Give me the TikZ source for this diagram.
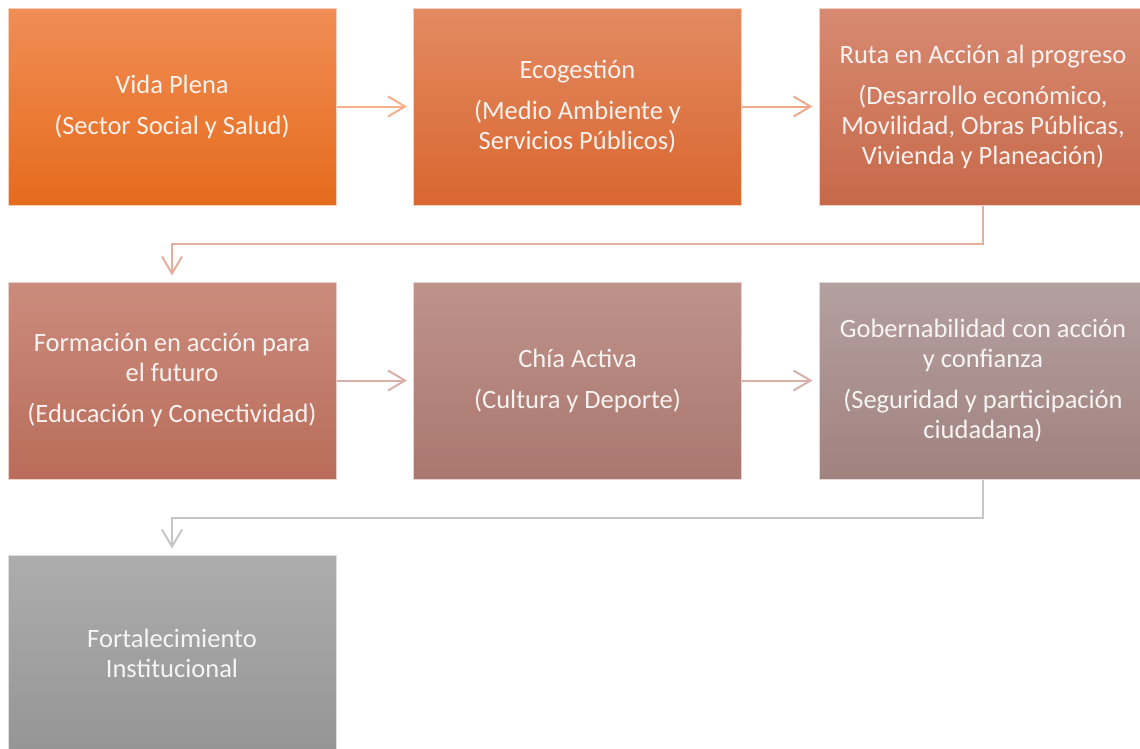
\documentclass[tikz,border=0pt]{standalone}
\usepackage{fontspec}
\setmainfont{Carlito}
\usetikzlibrary{arrows.meta}
\definecolor{aT}{HTML}{F18D56}\definecolor{aB}{HTML}{E56B1C}
\definecolor{bT}{HTML}{E38A62}\definecolor{bB}{HTML}{D96730}
\definecolor{cT}{HTML}{D78A71}\definecolor{cB}{HTML}{C7694A}
\definecolor{dT}{HTML}{CB8C7D}\definecolor{dB}{HTML}{B96C59}
\definecolor{eT}{HTML}{BE938B}\definecolor{eB}{HTML}{AA776E}
\definecolor{fT}{HTML}{B4A0A0}\definecolor{fB}{HTML}{A1827E}
\definecolor{gT}{HTML}{ADADAD}\definecolor{gB}{HTML}{959595}
\definecolor{arA}{HTML}{F4B08A}
\definecolor{arB}{HTML}{EDA98E}
\definecolor{arC}{HTML}{E6AE9C}
\definecolor{arD}{HTML}{D8B0A9}
\definecolor{arE}{HTML}{C6C6C6}
\tikzset{
  box/.style={rectangle, minimum width=328pt, minimum height=197pt, inner sep=0pt,
    align=center, text=white, text opacity=0.9, draw=white!60!#1, line width=1pt,
    font=\fontsize{26.5pt}{30pt}\selectfont},
  flow/.style={line width=2pt, -{Straight Barb[length=17pt,width=20pt,line width=2pt]}, shorten >=6pt}
}
\newcommand{\gp}{\\[11pt]}
\begin{document}
\begin{tikzpicture}[x=1pt,y=-1pt]
\useasboundingbox (0,0) rectangle (1140,748);
\clip (0,0) rectangle (1140,748);
\node[box=aT, top color=aT, bottom color=aB] (b1) at (172,106.5) {Vida Plena\gp(Sector Social y Salud)};
\node[box=bT, top color=bT, bottom color=bB] (b2) at (577.5,106.5) {Ecogestión\gp(Medio Ambiente y\\Servicios Públicos)};
\node[box=cT, top color=cT, bottom color=cB] (b3) at (983,106.5) {Ruta en Acción al progreso\gp(Desarrollo económico,\\Movilidad, Obras Públicas,\\Vivienda y Planeación)};
\node[box=dT, top color=dT, bottom color=dB] (b4) at (172,380.5) {Formación en acción para\\el futuro\gp(Educación y Conectividad)};
\node[box=eT, top color=eT, bottom color=eB] (b5) at (577.5,380.5) {Chía Activa\gp(Cultura y Deporte)};
\node[box=fT, top color=fT, bottom color=fB] (b6) at (983,380.5) {Gobernabilidad con acción\\y confianza\gp(Seguridad y participación\\ciudadana)};
\node[box=gT, top color=gT, bottom color=gB] (b7) at (172,653.5) {Fortalecimiento\\Institucional};
\draw[flow, arA] (b1.east) -- (b2.west);
\draw[flow, arB] (b2.east) -- (b3.west);
\draw[flow, arC] (b3.south) -- ++(0,38) -| (b4.north);
\draw[flow, arD] (b4.east) -- (b5.west);
\draw[flow, arD] (b5.east) -- (b6.west);
\draw[flow, arE] (b6.south) -- ++(0,38) -| (b7.north);
\end{tikzpicture}
\end{document}
